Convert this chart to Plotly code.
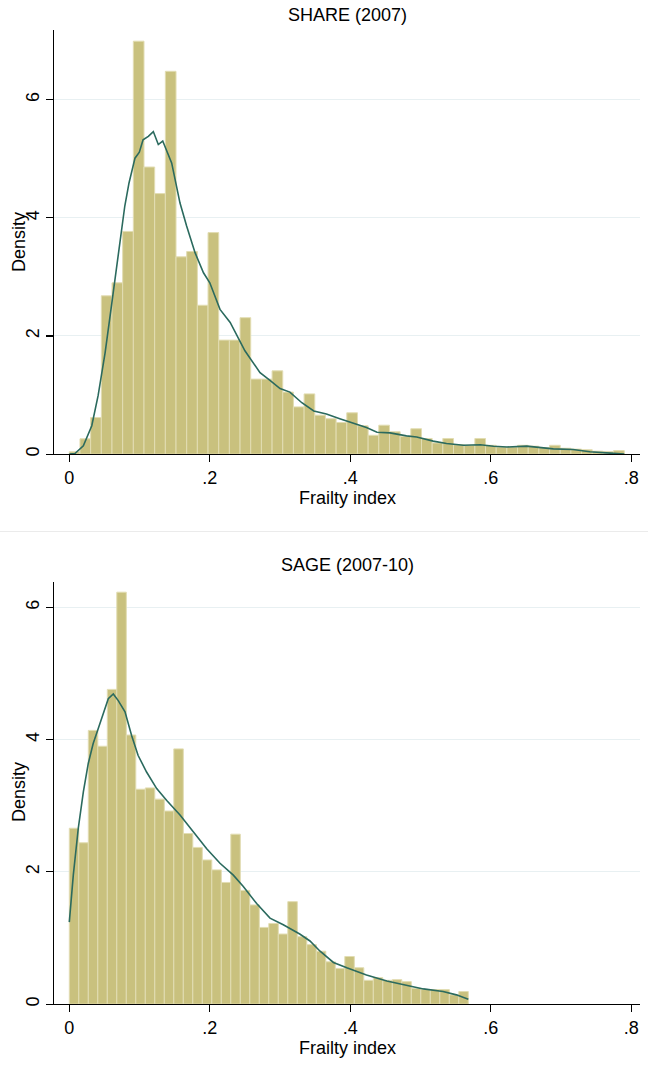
import numpy as np
import plotly.graph_objects as go

# ---------------- data ----------------
# SHARE (2007): histogram of frailty index (density), 52 equal bins from 0 to 0.79
share_min, share_max = 0.0, 0.79
share_density = [0.04, 0.26, 0.62, 2.68, 2.90, 3.77, 6.99, 4.86, 4.41, 6.48,
                 3.34, 3.43, 2.52, 3.75, 1.93, 1.93, 2.31, 1.27, 1.27, 1.41,
                 1.05, 0.80, 1.02, 0.66, 0.60, 0.535, 0.70, 0.48, 0.32, 0.49,
                 0.38, 0.30, 0.43, 0.265, 0.19, 0.265, 0.16, 0.15, 0.265, 0.15,
                 0.12, 0.12, 0.15, 0.135, 0.11, 0.15, 0.10, 0.085, 0.075, 0.05,
                 0.045, 0.06]
share_kde_x = [0.000, 0.008, 0.020, 0.032, 0.041, 0.051, 0.060, 0.072, 0.079, 0.085,
               0.0935, 0.0997, 0.105, 0.1125, 0.1196, 0.1267, 0.133, 0.1457, 0.1576, 0.167,
               0.179, 0.191, 0.200, 0.2145, 0.229, 0.250, 0.2715, 0.2857, 0.300, 0.314,
               0.331, 0.348, 0.366, 0.385, 0.404, 0.423, 0.438, 0.4565, 0.480, 0.4945,
               0.518, 0.537, 0.561, 0.585, 0.604, 0.623, 0.651, 0.670, 0.689, 0.717,
               0.741, 0.770, 0.790]
share_kde_y = [0.00, 0.01, 0.14, 0.48, 0.99, 1.72, 2.51, 3.52, 4.20, 4.59,
               5.01, 5.11, 5.32, 5.38, 5.46, 5.24, 5.30, 4.93, 4.25, 3.86,
               3.41, 3.07, 2.90, 2.45, 2.23, 1.75, 1.38, 1.25, 1.11, 1.05,
               0.87, 0.73, 0.68, 0.60, 0.53, 0.45, 0.37, 0.36, 0.31, 0.29,
               0.22, 0.18, 0.15, 0.16, 0.135, 0.12, 0.135, 0.11, 0.09, 0.08,
               0.04, 0.017, 0.0]

# SAGE (2007-10): 42 equal bins from 0 to 0.568
sage_min, sage_max = 0.0, 0.568
sage_density = [2.66, 2.44, 4.14, 3.90, 4.76, 6.23, 4.07, 3.25, 3.27, 3.10,
                2.92, 3.86, 2.58, 2.37, 2.18, 2.03, 1.84, 2.57, 1.72, 1.50,
                1.16, 1.22, 1.06, 1.55, 1.02, 0.90, 0.80, 0.64, 0.54, 0.72,
                0.55, 0.36, 0.40, 0.36, 0.37, 0.34, 0.24, 0.22, 0.22, 0.22,
                0.14, 0.19]
sage_kde_x = [0.0, 0.0057, 0.0128, 0.020, 0.027, 0.034, 0.041, 0.048, 0.0555, 0.0626,
              0.0697, 0.0793, 0.0888, 0.098, 0.110, 0.1244, 0.1387, 0.1576, 0.1765, 0.1956,
              0.2145, 0.2335, 0.2477, 0.2667, 0.2857, 0.3046, 0.328, 0.3426, 0.357, 0.376,
              0.395, 0.423, 0.452, 0.480, 0.504, 0.532, 0.551, 0.568]
sage_kde_y = [1.24, 1.95, 2.66, 3.21, 3.64, 3.94, 4.16, 4.39, 4.62, 4.69,
              4.59, 4.42, 4.06, 3.76, 3.51, 3.26, 3.08, 2.86, 2.61, 2.35,
              2.13, 1.95, 1.78, 1.52, 1.30, 1.20, 1.06, 0.955, 0.80, 0.63,
              0.55, 0.44, 0.35, 0.28, 0.23, 0.19, 0.14, 0.075]

x_tickvals = [0, 0.2, 0.4, 0.6, 0.8]
x_ticktext = ["0", ".2", ".4", ".6", ".8"]
y_tickvals = [0, 2, 4, 6]
y_ticktext = ["0", "2", "4", "6"]

panel_titles = ["SHARE (2007)", "SAGE (2007-10)"]
x_title = "Frailty index"
y_title = "Density"

# ---------------- styles ----------------
BAR = "#C9C17E"
BAR_EDGE = "#E2DDB3"
LINE = "#2B6A5E"
GRID = "#E8F0F2"
FONT = "Liberation Sans, Arial, Helvetica, sans-serif"
W, H = 648, 1066


def bins(lo, hi, heights):
    edges = np.linspace(lo, hi, len(heights) + 1)
    return (edges[:-1] + edges[1:]) / 2, edges[1] - edges[0]


fig = go.Figure()

for i, (lo, hi, dens, kx, ky) in enumerate([
        (share_min, share_max, share_density, share_kde_x, share_kde_y),
        (sage_min, sage_max, sage_density, sage_kde_x, sage_kde_y)]):
    xa = "x" if i == 0 else "x2"
    ya = "y" if i == 0 else "y2"
    centers, width = bins(lo, hi, dens)
    fig.add_trace(go.Bar(x=centers, y=dens, width=width,
                         marker=dict(color=BAR, line=dict(color=BAR_EDGE, width=1)),
                         xaxis=xa, yaxis=ya, showlegend=False))
    fig.add_trace(go.Scatter(x=kx, y=ky, mode="lines",
                             line=dict(color=LINE, width=1.6),
                             xaxis=xa, yaxis=ya, showlegend=False))

xdom = [54 / W, 640 / W]
xrange_ = [(54 - 69.3) / 702.5, (640 - 69.3) / 702.5]


def xaxis(anchor):
    return dict(domain=xdom, anchor=anchor, range=xrange_,
                tickvals=x_tickvals, ticktext=x_ticktext,
                ticks="outside", ticklen=7, tickwidth=1.2, tickcolor="black",
                showline=True, linecolor="black", linewidth=1.3,
                showgrid=False, zeroline=False,
                tickfont=dict(family=FONT, size=18, color="black"))


def yaxis(anchor, dom, top):
    return dict(domain=dom, anchor=anchor, range=[0, top],
                tickvals=y_tickvals, ticktext=y_ticktext, tickangle=-90,
                ticks="outside", ticklen=7, tickwidth=1.2, tickcolor="black",
                showline=True, linecolor="black", linewidth=1.3,
                showgrid=True, gridcolor=GRID, gridwidth=1, zeroline=False,
                tickfont=dict(family=FONT, size=18, color="black"))


fig.update_layout(
    width=W, height=H,
    margin=dict(l=0, r=0, t=0, b=0),
    paper_bgcolor="white", plot_bgcolor="white",
    bargap=0, showlegend=False,
    font=dict(family=FONT, color="black", size=18),
    xaxis=xaxis("y"),
    yaxis=yaxis("x", [1 - 455 / H, 1 - 30 / H], 7.18),
    xaxis2=xaxis("y2"),
    yaxis2=yaxis("x2", [1 - 1006 / H, 1 - 582.7 / H], 6.39),
)

cx = 347 / W
ann = [
    (cx, 15.5, panel_titles[0], 0),
    (cx, 498.5, x_title, 0),
    (cx, 566, panel_titles[1], 0),
    (cx, 1049.5, x_title, 0),
    (18.5 / W, 243, y_title, -90),
    (18.5 / W, 794, y_title, -90),
]
for x, ypx, txt, ang in ann:
    fig.add_annotation(x=x, y=1 - ypx / H, xref="paper", yref="paper",
                       text=txt, showarrow=False, textangle=ang,
                       xanchor="center", yanchor="middle",
                       font=dict(family=FONT, size=18, color="black"))

fig.add_shape(type="line", xref="paper", yref="paper",
              x0=0, x1=1, y0=1 - 532.5 / H, y1=1 - 532.5 / H,
              line=dict(color="#EBEBEB", width=1))

fig.write_html("out.html",
               config={"displayModeBar": False, "staticPlot": True},
               post_script="document.body.style.margin='0';"
                           "document.body.style.padding='0';"
                           "document.body.style.overflow='hidden';")
